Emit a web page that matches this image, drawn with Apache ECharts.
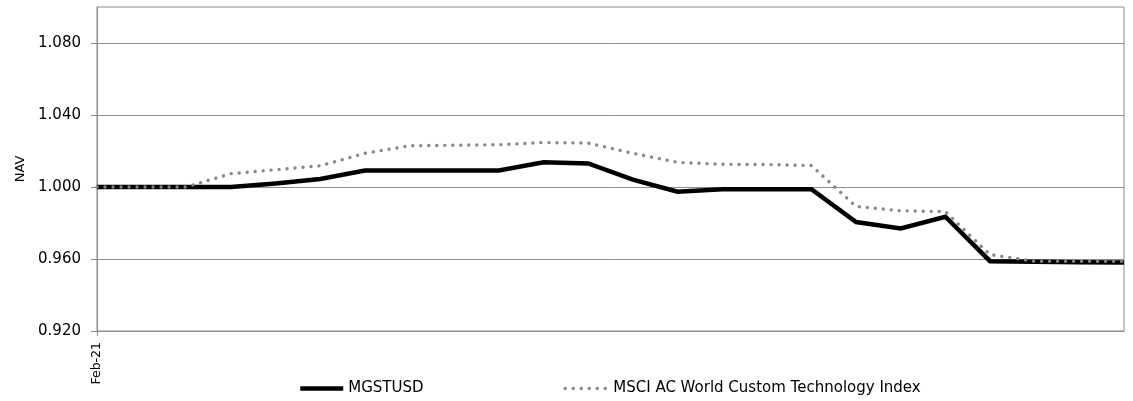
<!DOCTYPE html>
<html>
<head>
<meta charset="utf-8">
<script src="https://cdn.jsdelivr.net/npm/echarts@6/dist/echarts.min.js"></script>
<style>
html,body{margin:0;padding:0;background:#fff;}
#chart{width:1133px;height:401px;}
</style>
</head>
<body>
<div id="chart"></div>
<script>
const categories = ['Feb-21','','','','','','','','','','','','','','','','','','','','','','',''];
const seriesNames = ['MGSTUSD', 'MSCI AC World Custom Technology Index'];
const mgstusd = [1.000, 1.000, 1.000, 1.000, 1.002, 1.0044, 1.0092, 1.0092, 1.0092, 1.0092, 1.0137, 1.0131, 1.0041, 0.9974, 0.9988, 0.9988, 0.9988, 0.9805, 0.977, 0.9835, 0.9588, 0.9585, 0.9582, 0.958];
const msciIndex = [1.000, 1.000, 1.000, 1.0074, 1.0096, 1.0118, 1.0187, 1.0229, 1.0232, 1.0235, 1.0247, 1.0244, 1.0187, 1.0137, 1.0126, 1.0125, 1.0119, 0.9892, 0.9868, 0.9863, 0.9624, 0.9587, 0.9587, 0.9587];
const yTicks = [0.92, 0.96, 1.00, 1.04, 1.08];

const gray = '#8c8c8c';
const chart = echarts.init(document.getElementById('chart'), null, {renderer: 'canvas'});
chart.setOption({
  animation: false,
  backgroundColor: '#fff',
  textStyle: {fontFamily: 'DejaVu Sans'},
  grid: {left: 97, right: 9, top: 7, bottom: 70, containLabel: false, outerBoundsMode: 'none',
         show: true, borderColor: gray, borderWidth: 1},
  legend: {
    left: 293, top: 376, itemGap: 140, itemWidth: 43, itemHeight: 14,
    itemStyle: {opacity: 0},
    lineStyle: {width: 'inherit'},
    textStyle: {fontFamily: 'DejaVu Sans', fontSize: 15, color: '#000'},
    data: seriesNames
  },
  xAxis: {
    type: 'category', data: categories, boundaryGap: false,
    axisLine: {show: true, lineStyle: {color: gray, width: 1}},
    axisTick: {show: true, length: 5, interval: (i) => i === 0, lineStyle: {color: gray}},
    axisLabel: {rotate: 90, margin: 11, interval: 0, fontSize: 12.5, color: '#000', fontFamily: 'DejaVu Sans'},
    splitLine: {show: false}
  },
  yAxis: {
    type: 'value', min: 0.92, max: 1.1, interval: 0.04,
    name: 'NAV', nameLocation: 'middle', nameGap: 67,
    nameTextStyle: {fontSize: 13, color: '#000', fontFamily: 'DejaVu Sans'},
    axisLine: {show: true, lineStyle: {color: gray, width: 1}},
    axisTick: {show: true, length: 6, customValues: yTicks, lineStyle: {color: gray}},
    axisLabel: {margin: 16, fontSize: 15, color: '#000', fontFamily: 'DejaVu Sans', customValues: yTicks,
      formatter: (v) => v.toFixed(3)},
    splitLine: {show: true, lineStyle: {color: gray, width: 1}}
  },
  series: [
    {name: seriesNames[0], type: 'line', data: mgstusd, symbol: 'none',
     lineStyle: {color: '#000', width: 4.5, join: 'miter'}, itemStyle: {color: '#000'}},
    {name: seriesNames[1], type: 'line', data: msciIndex, symbol: 'none',
     lineStyle: {color: '#858585', width: 3.4, type: [0.01, 8], cap: 'round'}, itemStyle: {color: '#858585'}}
  ]
});
</script>
</body>
</html>
